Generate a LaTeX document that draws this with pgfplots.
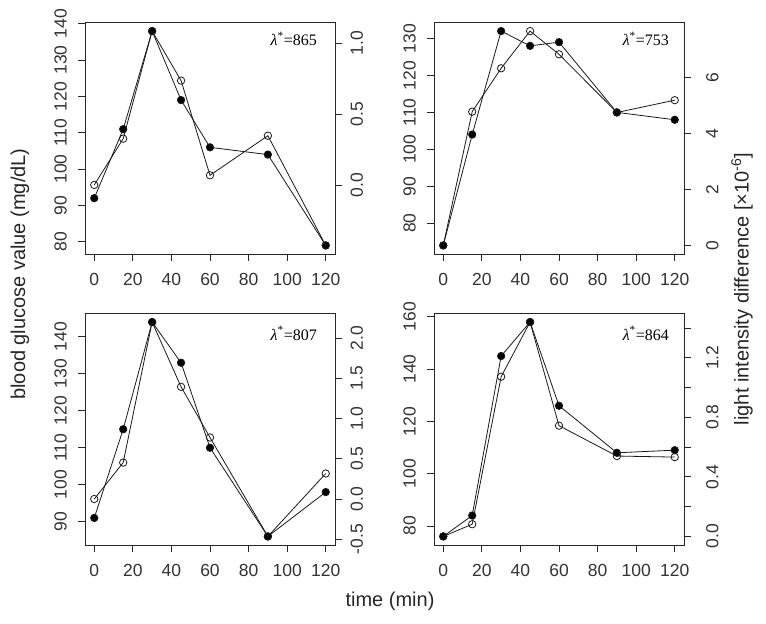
\documentclass[border=0pt]{standalone}
\usepackage{pgfplots}
\pgfplotsset{compat=1.18}
\usepackage{fontspec}
\setmainfont{Liberation Sans}
\newfontfamily\serif{Liberation Serif}
\newcommand\tickfont{\fontsize{17.5}{21}\selectfont}
\newcommand\labfont{\fontsize{20}{23}\selectfont}
\newcommand\lamfont{\serif\fontsize{16}{19}\selectfont}
\pgfplotsset{
  panel/.style={scale only axis, width=250pt, height=231.5pt,
    xmin=-4.8, xmax=124.8, clip=false,
    tick align=outside, major tick length=7pt,
    tick style={black!85, line width=0.8pt},
    axis line style={black!85, line width=0.8pt},
    every tick label/.append style={font=\tickfont, text=black!80},
    /pgf/number format/assume math mode=true},
  leftax/.style={panel, xtick={0,20,40,60,80,100,120}, xtick pos=bottom, ytick pos=left,
    xticklabel style={anchor=north, inner sep=0pt, yshift=-11.7pt},
    yticklabel style={rotate=90, anchor=south, inner xsep=0pt, inner ysep=11pt}},
  rightax/.style={panel, hide x axis, axis y line*=right,
    yticklabel style={rotate=90, anchor=north, inner xsep=0pt, inner ysep=#1}},
  gl/.style={black!90, line width=0.8pt, mark=*, mark size=3.7pt, mark options={fill=black, solid}},
  li/.style={black!90, line width=0.8pt, mark=o, mark size=3.7pt, mark options={solid, line width=0.8pt}},
}
\begin{document}
\begin{tikzpicture}
\useasboundingbox (0,0) rectangle (766pt,624pt);
% ---------- Panel 1 ----------
\begin{axis}[leftax, at={(85pt,370pt)}, anchor=south west,
  ymin=76.64, ymax=140.36, ytick={80,90,100,110,120,130,140}]
\addplot[gl] coordinates {(0,92)(15,111)(30,138)(45,119)(60,106)(90,104)(120,79)};
\node[anchor=east, font=\lamfont, inner sep=0pt] at ([xshift=-18pt,yshift=-16.5pt]rel axis cs:1,1) {{\itshape λ}\textsuperscript{*}=865};
\end{axis}
\begin{axis}[rightax=8.5pt, at={(85pt,370pt)}, anchor=south west,
  ymin=-0.4864, ymax=1.1444, ytick={0,0.5,1}, yticklabels={0.0,0.5,1.0}]
\addplot[li] coordinates {(0,0.0)(15,0.326)(30,1.084)(45,0.735)(60,0.068)(90,0.347)(120,-0.426)};
\end{axis}
% ---------- Panel 2 ----------
\begin{axis}[leftax, at={(434pt,370pt)}, anchor=south west,
  ymin=71.68, ymax=134.32, ytick={80,90,100,110,120,130}]
\addplot[gl] coordinates {(0,74)(15,104)(30,132)(45,128)(60,129)(90,110)(120,108)};
\node[anchor=east, font=\lamfont, inner sep=0pt] at ([xshift=-15pt,yshift=-16.5pt]rel axis cs:1,1) {{\itshape λ}\textsuperscript{*}=753};
\end{axis}
\begin{axis}[rightax=15pt, at={(434pt,370pt)}, anchor=south west,
  ymin=-0.3064, ymax=7.9664, ytick={0,2,4,6}, yticklabels={0,2,4,6}]
\addplot[li] coordinates {(0,0)(15,4.78)(30,6.33)(45,7.66)(60,6.83)(90,4.75)(120,5.19)};
\end{axis}
% ---------- Panel 3 ----------
\begin{axis}[leftax, at={(85pt,79pt)}, anchor=south west,
  ymin=83.68, ymax=146.32, ytick={90,100,110,120,130,140}]
\addplot[gl] coordinates {(0,91)(15,115)(30,144)(45,133)(60,110)(90,86)(120,98)};
\node[anchor=east, font=\lamfont, inner sep=0pt] at ([xshift=-18pt,yshift=-20pt]rel axis cs:1,1) {{\itshape λ}\textsuperscript{*}=807};
\end{axis}
\begin{axis}[rightax=8.5pt, at={(85pt,79pt)}, anchor=south west,
  ymin=-0.5716, ymax=2.3066, ytick={-0.5,0,0.5,1,1.5,2}, yticklabels={-0.5,0.0,0.5,1.0,1.5,2.0}]
\addplot[li] coordinates {(0,0.0)(15,0.453)(30,2.20)(45,1.395)(60,0.765)(90,-0.465)(120,0.317)};
\end{axis}
% ---------- Panel 4 ----------
\begin{axis}[leftax, at={(434pt,79pt)}, anchor=south west,
  ymin=72.72, ymax=161.28, ytick={80,100,120,140,160}]
\addplot[gl] coordinates {(0,76)(15,84)(30,145)(45,158)(60,126)(90,108)(120,109)};
\node[anchor=east, font=\lamfont, inner sep=0pt] at ([xshift=-15pt,yshift=-20pt]rel axis cs:1,1) {{\itshape λ}\textsuperscript{*}=864};
\end{axis}
\begin{axis}[rightax=15pt, at={(434pt,79pt)}, anchor=south west,
  ymin=-0.0576, ymax=1.4976, ytick={0,0.2,0.4,0.6,0.8,1.0,1.2,1.4}, yticklabels={0.0,,0.4,,0.8,,1.2,}]
\addplot[li] coordinates {(0,0)(15,0.082)(30,1.073)(45,1.44)(60,0.744)(90,0.54)(120,0.533)};
\end{axis}
% ---------- Outer labels ----------
\node[rotate=90, font=\labfont, text=black!85] at (20pt,350pt) {blood glucose value (mg/dL)};
\node[rotate=90, font=\labfont, text=black!85] at (742pt,335pt) {light intensity difference [×10\textsuperscript{-6}]};
\node[font=\labfont, text=black!85] at (390pt,23pt) {time (min)};
\end{tikzpicture}
\end{document}
